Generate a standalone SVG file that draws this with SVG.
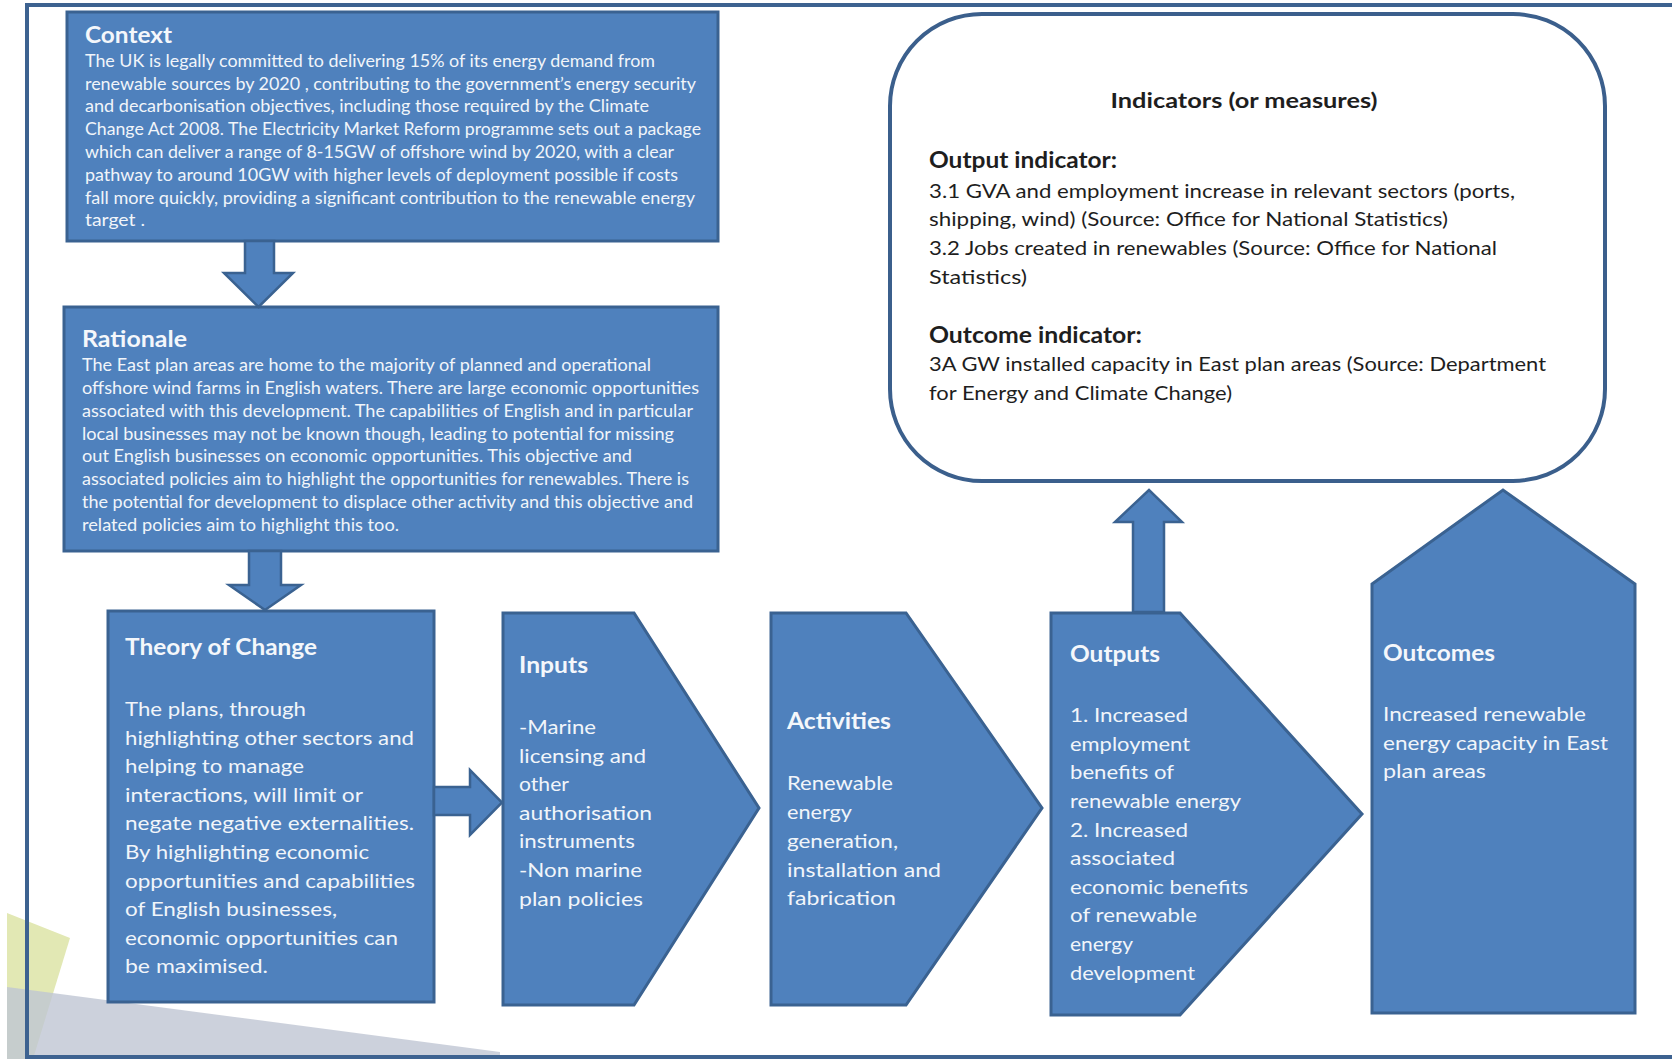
<svg xmlns="http://www.w3.org/2000/svg" width="1672" height="1059" viewBox="0 0 1672 1059">
  <defs>
    <style>
      .box { fill: #4f81bd; stroke: #3a6291; stroke-width: 3; stroke-linejoin: miter; }
      .arrow { fill: #4f81bd; stroke: #3a6291; stroke-width: 2.5; stroke-linejoin: miter; }
      .frame { fill: none; stroke: #3d6290; stroke-width: 4; }
      .ttl { font-family: Lato, "Liberation Sans", sans-serif; font-weight: bold; fill: #f4f7fb; }
      .txt { font-family: Lato, "Liberation Sans", sans-serif; fill: #f1f5fa; }
      .dtxt { font-family: Lato, "Liberation Sans", sans-serif; fill: #1e1e1e; }
      .dttl { font-family: Lato, "Liberation Sans", sans-serif; font-weight: bold; fill: #1e1e1e; }
    </style>
  </defs>

  <rect x="0" y="0" width="1672" height="1059" fill="#ffffff"/>

  <!-- background decoration, bottom left -->
  <polygon points="7,913 70,938 33,1059 7,1059" fill="#e2e8b4"/>
  <polygon points="7,987 500,1052 500,1059 7,1059" fill="#bfc5d3" fill-opacity="0.8"/>

  <!-- page frame -->
  <path class="frame" d="M1672,5 H27 V1057 H1672"/>

  <!-- Context -->
  <g id="context">
    <rect class="box" x="67" y="12" width="651" height="229"/>
    <text class="ttl" x="85" y="43" font-size="22" textLength="87" lengthAdjust="spacingAndGlyphs">Context</text>
    <g class="txt" font-size="17">
      <text x="85" y="67" textLength="570" lengthAdjust="spacingAndGlyphs">The UK is legally committed to delivering 15% of its energy demand from</text>
      <text x="85" y="90" textLength="611" lengthAdjust="spacingAndGlyphs">renewable sources by 2020 , contributing to the government’s energy security</text>
      <text x="85" y="112" textLength="564" lengthAdjust="spacingAndGlyphs">and decarbonisation objectives, including those required by the Climate</text>
      <text x="85" y="135" textLength="616" lengthAdjust="spacingAndGlyphs">Change Act 2008. The Electricity Market Reform programme sets out a package</text>
      <text x="85" y="158" textLength="589" lengthAdjust="spacingAndGlyphs">which can deliver a range of 8-15GW of offshore wind by 2020, with a clear</text>
      <text x="85" y="181" textLength="593" lengthAdjust="spacingAndGlyphs">pathway to around 10GW with higher levels of deployment possible if costs</text>
      <text x="85" y="204" textLength="610" lengthAdjust="spacingAndGlyphs">fall more quickly, providing a significant contribution to the renewable energy</text>
      <text x="85" y="226" textLength="60" lengthAdjust="spacingAndGlyphs">target .</text>
    </g>
  </g>

  <!-- Rationale -->
  <g id="rationale">
    <rect class="box" x="64" y="307" width="654" height="244"/>
    <text class="ttl" x="82" y="347" font-size="22" textLength="105" lengthAdjust="spacingAndGlyphs">Rationale</text>
    <g class="txt" font-size="17">
      <text x="82" y="371" textLength="569" lengthAdjust="spacingAndGlyphs">The East plan areas are home to the majority of planned and operational</text>
      <text x="82" y="394" textLength="617" lengthAdjust="spacingAndGlyphs">offshore wind farms in English waters.  There are large economic opportunities</text>
      <text x="82" y="417" textLength="611" lengthAdjust="spacingAndGlyphs">associated with this  development. The capabilities of English and in particular</text>
      <text x="82" y="440" textLength="592" lengthAdjust="spacingAndGlyphs">local businesses may not be known though, leading to potential  for missing</text>
      <text x="82" y="462" textLength="550" lengthAdjust="spacingAndGlyphs">out English  businesses on economic opportunities. This objective  and</text>
      <text x="82" y="485" textLength="607" lengthAdjust="spacingAndGlyphs">associated policies aim to highlight the opportunities for renewables. There is</text>
      <text x="82" y="508" textLength="611" lengthAdjust="spacingAndGlyphs">the potential for development to displace other activity and this objective and</text>
      <text x="82" y="531" textLength="317" lengthAdjust="spacingAndGlyphs">related policies aim to highlight this too.</text>
    </g>
  </g>

  <!-- Theory of Change -->
  <g id="theory-of-change">
    <rect class="box" x="108" y="611" width="326" height="391"/>
    <text class="ttl" x="125" y="655" font-size="22" textLength="192" lengthAdjust="spacingAndGlyphs">Theory of Change</text>
    <g class="txt" font-size="20">
      <text x="125" y="716" textLength="181" lengthAdjust="spacingAndGlyphs">The  plans, through</text>
      <text x="125" y="745" textLength="289" lengthAdjust="spacingAndGlyphs">highlighting other sectors and</text>
      <text x="125" y="773" textLength="179" lengthAdjust="spacingAndGlyphs">helping to manage</text>
      <text x="125" y="802" textLength="238" lengthAdjust="spacingAndGlyphs">interactions, will limit or</text>
      <text x="125" y="830" textLength="289" lengthAdjust="spacingAndGlyphs">negate  negative  externalities.</text>
      <text x="125" y="859" textLength="244" lengthAdjust="spacingAndGlyphs">By highlighting economic</text>
      <text x="125" y="888" textLength="290" lengthAdjust="spacingAndGlyphs">opportunities and capabilities</text>
      <text x="125" y="916" textLength="212" lengthAdjust="spacingAndGlyphs">of English businesses,</text>
      <text x="125" y="945" textLength="273" lengthAdjust="spacingAndGlyphs">economic opportunities can</text>
      <text x="125" y="973" textLength="143" lengthAdjust="spacingAndGlyphs">be  maximised.</text>
    </g>
  </g>

  <!-- Inputs -->
  <g id="inputs">
    <path class="box" d="M503,613 H634 L759,808 L634,1005 H503 Z"/>
    <text class="ttl" x="519" y="673" font-size="22" textLength="69" lengthAdjust="spacingAndGlyphs">Inputs</text>
    <g class="txt" font-size="20">
      <text x="519" y="734" textLength="77" lengthAdjust="spacingAndGlyphs">-Marine</text>
      <text x="519" y="763" textLength="127" lengthAdjust="spacingAndGlyphs">licensing and</text>
      <text x="519" y="791" textLength="50" lengthAdjust="spacingAndGlyphs">other</text>
      <text x="519" y="820" textLength="133" lengthAdjust="spacingAndGlyphs">authorisation</text>
      <text x="519" y="848" textLength="116" lengthAdjust="spacingAndGlyphs">instruments</text>
      <text x="519" y="877" textLength="123" lengthAdjust="spacingAndGlyphs">-Non  marine</text>
      <text x="519" y="906" textLength="124" lengthAdjust="spacingAndGlyphs">plan policies</text>
    </g>
  </g>

  <!-- Activities -->
  <g id="activities">
    <path class="box" d="M771,613 H906 L1042,808 L906,1005 H771 Z"/>
    <text class="ttl" x="787" y="729" font-size="22" textLength="104" lengthAdjust="spacingAndGlyphs">Activities</text>
    <g class="txt" font-size="20">
      <text x="787" y="790" textLength="106" lengthAdjust="spacingAndGlyphs">Renewable</text>
      <text x="787" y="819" textLength="65" lengthAdjust="spacingAndGlyphs">energy</text>
      <text x="787" y="848" textLength="111" lengthAdjust="spacingAndGlyphs">generation,</text>
      <text x="787" y="877" textLength="154" lengthAdjust="spacingAndGlyphs">installation and</text>
      <text x="787" y="905" textLength="109" lengthAdjust="spacingAndGlyphs">fabrication</text>
    </g>
  </g>

  <!-- Outputs -->
  <g id="outputs">
    <path class="box" d="M1051,613 H1180 L1362,814 L1180,1015 H1051 Z"/>
    <text class="ttl" x="1070" y="662" font-size="22" textLength="90" lengthAdjust="spacingAndGlyphs">Outputs</text>
    <g class="txt" font-size="20">
      <text x="1070" y="722" textLength="118" lengthAdjust="spacingAndGlyphs">1. Increased</text>
      <text x="1070" y="751" textLength="120" lengthAdjust="spacingAndGlyphs">employment</text>
      <text x="1070" y="779" textLength="104" lengthAdjust="spacingAndGlyphs">benefits of</text>
      <text x="1070" y="808" textLength="171" lengthAdjust="spacingAndGlyphs">renewable energy</text>
      <text x="1070" y="837" textLength="118" lengthAdjust="spacingAndGlyphs">2. Increased</text>
      <text x="1070" y="865" textLength="105" lengthAdjust="spacingAndGlyphs">associated</text>
      <text x="1070" y="894" textLength="178" lengthAdjust="spacingAndGlyphs">economic benefits</text>
      <text x="1070" y="922" textLength="127" lengthAdjust="spacingAndGlyphs">of renewable</text>
      <text x="1070" y="951" textLength="63" lengthAdjust="spacingAndGlyphs">energy</text>
      <text x="1070" y="980" textLength="125" lengthAdjust="spacingAndGlyphs">development</text>
    </g>
  </g>

  <!-- Outcomes -->
  <g id="outcomes">
    <path class="box" d="M1372,1013 V584 L1503,490 L1635,584 V1013 Z"/>
    <text class="ttl" x="1383" y="661" font-size="22" textLength="112" lengthAdjust="spacingAndGlyphs">Outcomes</text>
    <g class="txt" font-size="20">
      <text x="1383" y="721" textLength="203" lengthAdjust="spacingAndGlyphs">Increased renewable</text>
      <text x="1383" y="750" textLength="225" lengthAdjust="spacingAndGlyphs">energy  capacity in East</text>
      <text x="1383" y="778" textLength="103" lengthAdjust="spacingAndGlyphs">plan areas</text>
    </g>
  </g>

  <!-- Indicators -->
  <g id="indicators">
    <rect x="890" y="14" width="715" height="467" rx="92" ry="92" fill="#ffffff" stroke="#3b5f8c" stroke-width="4"/>
    <text class="dttl" x="1244" y="108" font-size="21" text-anchor="middle" textLength="267" lengthAdjust="spacingAndGlyphs">Indicators (or measures)</text>
    <text class="dttl" x="929" y="168" font-size="23" textLength="188" lengthAdjust="spacingAndGlyphs">Output indicator:</text>
    <g class="dtxt" font-size="20">
      <text x="929" y="198" textLength="586" lengthAdjust="spacingAndGlyphs">3.1 GVA and employment  increase in relevant sectors (ports,</text>
      <text x="929" y="226" textLength="519" lengthAdjust="spacingAndGlyphs">shipping, wind) (Source: Office for National Statistics)</text>
      <text x="929" y="255" textLength="568" lengthAdjust="spacingAndGlyphs">3.2 Jobs created  in renewables (Source: Office for National</text>
      <text x="929" y="284" textLength="98" lengthAdjust="spacingAndGlyphs">Statistics)</text>
    </g>
    <text class="dttl" x="929" y="343" font-size="23" textLength="213" lengthAdjust="spacingAndGlyphs">Outcome indicator:</text>
    <g class="dtxt" font-size="20">
      <text x="929" y="371" textLength="617" lengthAdjust="spacingAndGlyphs">3A GW  installed capacity in East plan areas (Source: Department</text>
      <text x="929" y="400" textLength="303" lengthAdjust="spacingAndGlyphs">for Energy  and Climate Change)</text>
    </g>
  </g>

  <!-- block arrows between stages -->
  <g id="connectors">
    <path class="arrow" d="M245,241 H274 V273 H293 L258.5,307 L224,273 H245 Z"/>
    <path class="arrow" d="M249,551 H281 V585 H301 L265,610 L229,585 H249 Z"/>
    <path class="arrow" d="M434,787 H470 V770 L502,802.5 L470,835 V815 H434 Z"/>
    <path class="arrow" d="M1133,612 V522 H1115 L1149,490 L1182,522 H1164 V612 Z"/>
  </g>
</svg>
